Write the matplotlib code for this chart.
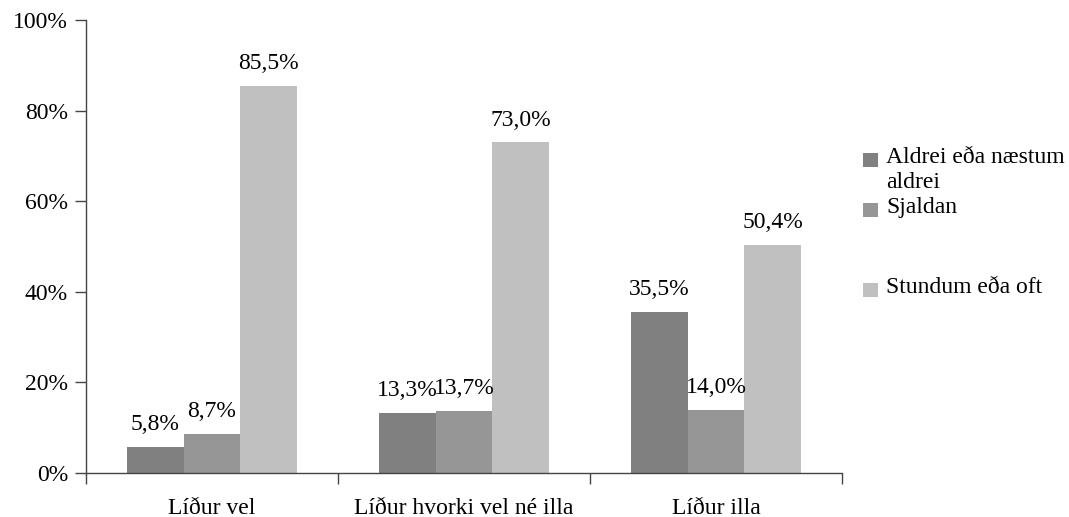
import numpy as np
import matplotlib.pyplot as plt
from matplotlib.patches import Rectangle

plt.rcParams['font.family'] = ['Liberation Serif', 'DejaVu Serif']

## data
categories = ["Líður vel", "Líður hvorki vel né illa", "Líður illa"]
series = ["Aldrei eða næstum\naldrei", "Sjaldan", "Stundum eða oft"]
values = [
    [5.8, 13.3, 35.5],   # Aldrei eða næstum aldrei
    [8.7, 13.7, 14.0],   # Sjaldan
    [85.5, 73.0, 50.4],  # Stundum eða oft
]
colors = ['#808080', '#969696', '#c0c0c0']

fs = 17

fig = plt.figure(figsize=(10.69, 5.17), dpi=100)
ax = fig.add_axes([86 / 1069, 44 / 517, 756 / 1069, 453 / 517])

x = np.arange(len(categories))
w = 0.225
for i, vals in enumerate(values):
    pos = x + (i - 1) * w
    ax.bar(pos, vals, width=w, color=colors[i], linewidth=0)
    for p, v in zip(pos, vals):
        ax.text(p, v + 2.6, f"{v:.1f}%".replace('.', ','), ha='center', va='bottom', fontsize=fs)

ax.set_xlim(-0.5, len(categories) - 0.5)
ax.set_ylim(0, 100)
ax.set_yticks(range(0, 101, 20))
ax.set_yticklabels([f"{t}%" for t in range(0, 101, 20)], fontsize=fs)
# category labels centred, ticks at group boundaries
ax.set_xticks(np.arange(-0.5, len(categories)), minor=False)
ax.set_xticklabels([])
ax.set_xticks(x, minor=True)
ax.set_xticklabels(categories, minor=True, fontsize=fs)
ax.tick_params(axis='x', which='minor', length=0, pad=18)
ax.tick_params(axis='x', which='major', length=8, width=1, color='#444444')
ax.tick_params(axis='y', length=8, width=1, color='#444444', pad=5)

for s in ['top', 'right']:
    ax.spines[s].set_visible(False)
for s in ['left', 'bottom']:
    ax.spines[s].set_color('#444444')
    ax.spines[s].set_linewidth(1)

## legend, drawn by hand to keep Excel's uneven spacing
leg_y = [160, 210, 290]
for c, lab, yy in zip(colors, series, leg_y):
    fig.patches.append(Rectangle((863 / 1069, 1 - (yy + 7) / 517), 15 / 1069, 14 / 517,
                                 transform=fig.transFigure, color=c, linewidth=0))
    fig.text(886 / 1069, 1 - (yy - 13) / 517, lab, fontsize=fs, va='top', ha='left',
             linespacing=1.28)

plt.savefig('out.png', dpi=100)
